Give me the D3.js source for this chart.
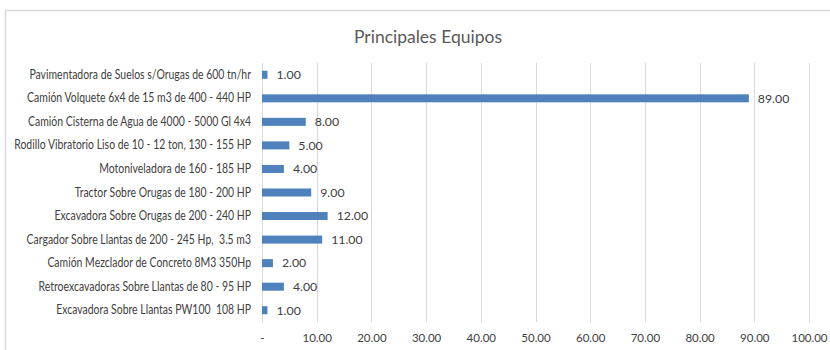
<!DOCTYPE html>
<html>
<head>
<meta charset="utf-8">
<script src="https://cdn.jsdelivr.net/npm/d3@7"></script>
<style>
  html, body { margin: 0; padding: 0; background: #fff; }
  svg { display: block; }
  text { white-space: pre; }
</style>
</head>
<body>
<svg id="chart" width="830" height="350"></svg>
<script>
// Equipment names, top to bottom
const categories = [
  "Pavimentadora de Suelos s/Orugas de 600 tn/hr",
  "Camión Volquete 6x4 de 15 m3 de 400 - 440 HP",
  "Camión Cisterna de Agua de 4000 - 5000 Gl 4x4",
  "Rodillo Vibratorio Liso de 10 - 12 ton, 130 - 155 HP",
  "Motoniveladora de 160 - 185 HP",
  "Tractor Sobre Orugas de 180 - 200 HP",
  "Excavadora Sobre Orugas de 200 - 240 HP",
  "Cargador Sobre Llantas de 200 - 245 Hp,  3.5 m3",
  "Camión Mezclador de Concreto 8M3 350Hp",
  "Retroexcavadoras Sobre Llantas de 80 - 95 HP",
  "Excavadora Sobre Llantas PW100  108 HP"
];
// Number of units per equipment type
const values = [1, 89, 8, 5, 4, 9, 12, 11, 2, 4, 1];
// Horizontal axis ticks
const xTicks = [0, 10, 20, 30, 40, 50, 60, 70, 80, 90, 100];
const title = "Principales Equipos";

const svg = d3.select("#chart");
const font = "Lato, 'Open Sans', sans-serif";
const textColor = "#404040";

// Outer chart frame
svg.append("rect")
  .attr("x", 5.5).attr("y", 10.5)
  .attr("width", 900).attr("height", 400)
  .attr("fill", "none")
  .attr("stroke", "#d9d9d9")
  .attr("stroke-width", 1.5);

const plot = { left: 262, right: 809, top: 63, bottom: 322 };
const labelRoom = 237; // widest category label, px

const x = d3.scaleLinear().domain([0, 100]).range([plot.left, plot.right]);
const y = d3.scaleBand().domain(categories)
  .range([plot.top, plot.bottom])
  .paddingInner(0.66).paddingOuter(0.33);

// Title
svg.append("text")
  .attr("x", 428).attr("y", 43)
  .attr("text-anchor", "middle")
  .attr("font-family", font)
  .attr("font-size", 17.5)
  .attr("fill", "#595959")
  .text(title);

// Vertical gridlines
svg.append("g")
  .selectAll("line")
  .data(xTicks)
  .join("line")
  .attr("x1", d => Math.round(x(d)) + 0.5)
  .attr("x2", d => Math.round(x(d)) + 0.5)
  .attr("y1", plot.top)
  .attr("y2", plot.bottom)
  .attr("stroke", "#d9d9d9")
  .attr("stroke-width", 1);

// Bottom axis labels
const xAxis = d3.axisBottom(x)
  .tickValues(xTicks)
  .tickSize(0)
  .tickPadding(12)
  .tickFormat(d => d === 0 ? "-" : d.toFixed(2));
const gx = svg.append("g")
  .attr("transform", `translate(0,${plot.bottom})`)
  .call(xAxis);
gx.select(".domain").remove();
gx.selectAll("text")
  .attr("font-family", font)
  .attr("font-size", 11.5)
  .attr("fill", textColor);

// Category labels, set in a slightly condensed width
const yAxis = d3.axisLeft(y).tickSize(0).tickPadding(11);
const gy = svg.append("g")
  .attr("transform", `translate(${plot.left},0)`)
  .call(yAxis);
gy.select(".domain").remove();
const labels = gy.selectAll("text")
  .attr("font-family", font)
  .attr("font-size", 12.5)
  .attr("fill", textColor);
const widest = d3.max(labels.nodes(), n => n.getComputedTextLength());
const squeeze = Math.min(1, labelRoom / widest);
labels.attr("x", -11 / squeeze);
gy.attr("transform", `translate(${plot.left},0) scale(${squeeze},1)`);

// Bars
svg.append("g")
  .selectAll("rect")
  .data(values)
  .join("rect")
  .attr("x", x(0))
  .attr("y", (d, i) => y(categories[i]))
  .attr("width", d => x(d) - x(0))
  .attr("height", y.bandwidth())
  .attr("fill", "#4f81bd");

// Value labels
svg.append("g")
  .selectAll("text")
  .data(values)
  .join("text")
  .attr("x", d => x(d) + 9)
  .attr("y", (d, i) => y(categories[i]) + y.bandwidth() / 2)
  .attr("dy", "0.35em")
  .attr("font-family", font)
  .attr("font-size", 12.3)
  .attr("fill", textColor)
  .text(d => d.toFixed(2));
</script>
</body>
</html>
